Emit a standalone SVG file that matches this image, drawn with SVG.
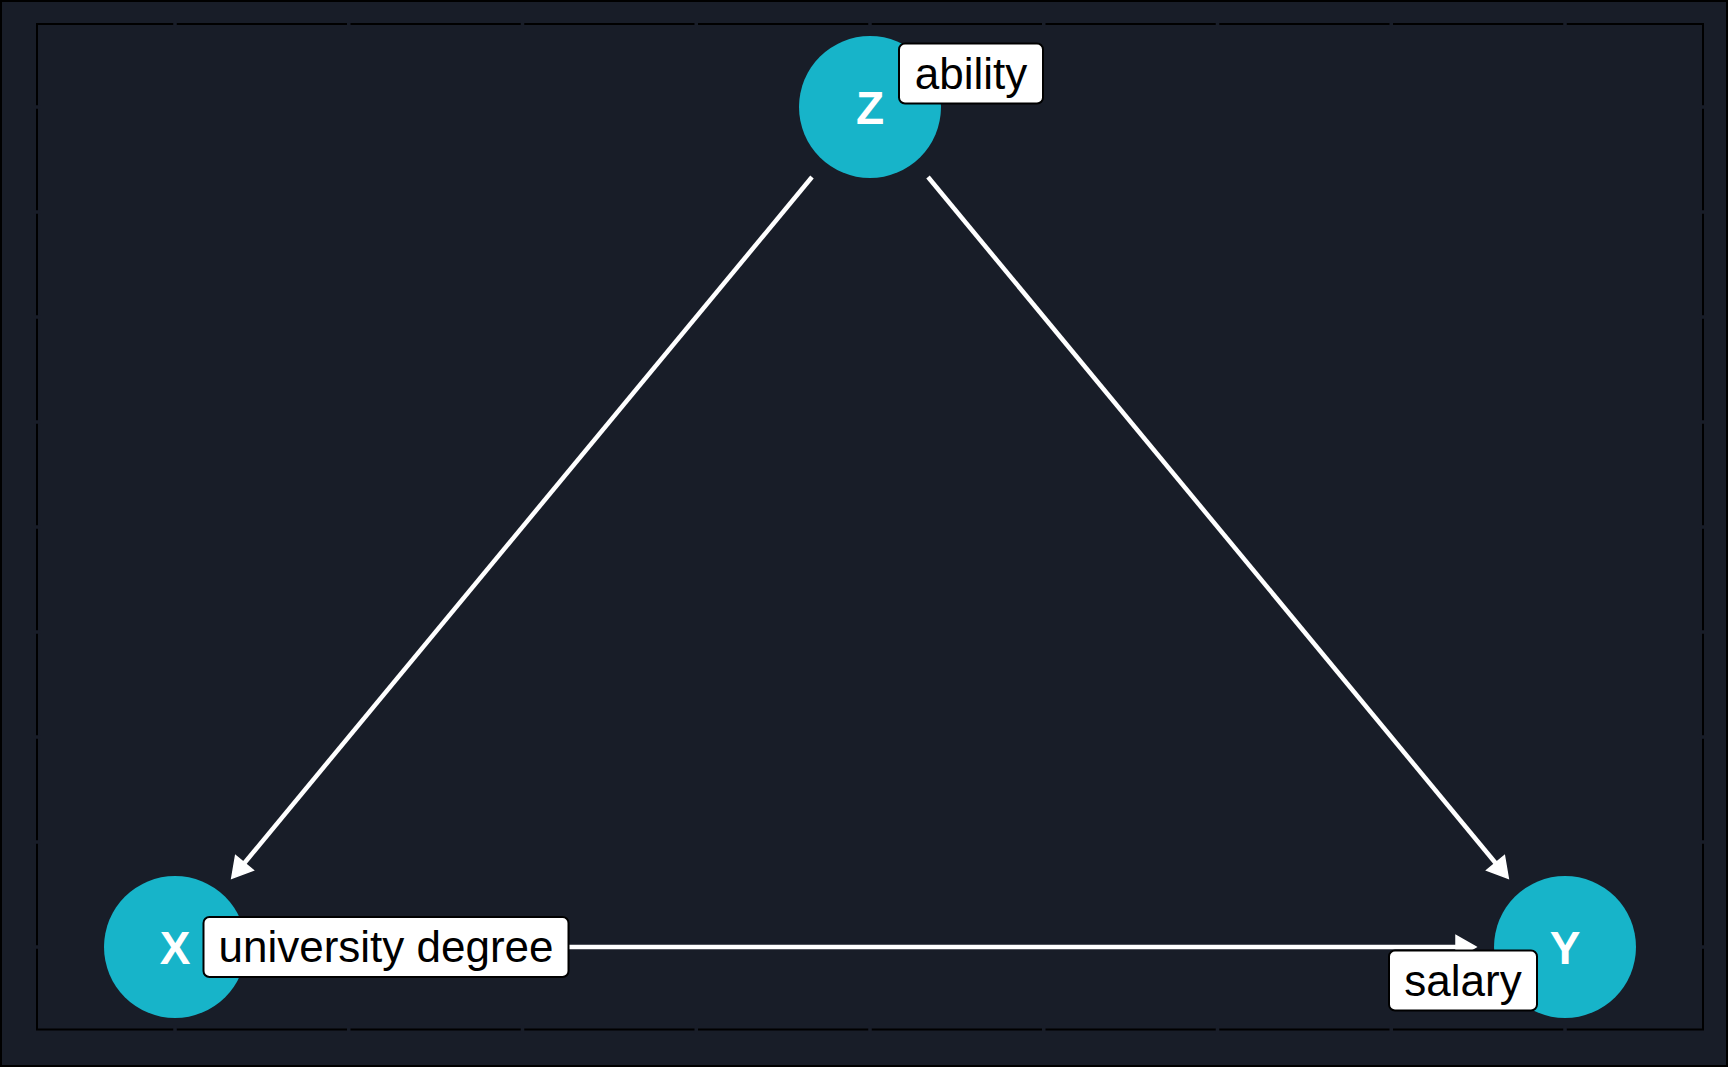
<svg xmlns="http://www.w3.org/2000/svg" width="1728" height="1067" viewBox="0 0 1728 1067">
  <style>
    .bg { fill: #181d28; }
    .frame { fill: none; stroke: #000000; stroke-width: 2; }
    .tick { fill: #181d28; }
    .edge { fill: none; stroke: #ffffff; stroke-width: 4.5; stroke-linecap: butt; }
    .node { fill: #17b4c9; }
    .letter { fill: #ffffff; font-family: "Liberation Sans", Arial, sans-serif; font-weight: bold; font-size: 46px; text-anchor: middle; }
    .lbox { fill: #ffffff; stroke: #000000; stroke-width: 2; }
    .ltext { fill: #000000; font-family: "Liberation Sans", Arial, sans-serif; font-size: 44px; text-anchor: middle; }
  </style>
  <defs>
    <marker id="arrow" markerUnits="userSpaceOnUse" markerWidth="40" markerHeight="40" refX="0" refY="0" orient="auto" overflow="visible" viewBox="-20 -20 40 40">
      <path d="M8,0 L-12,-11.5 L-12,11.5 Z" fill="#ffffff" stroke="#ffffff" stroke-width="1.5" stroke-linejoin="miter"/>
    </marker>
  </defs>

  <g id="background">
    <rect class="bg" x="0" y="0" width="1728" height="1067"/>
    <rect class="frame" x="1" y="1" width="1726" height="1065"/>
    <rect class="frame" x="37" y="24" width="1666" height="1005.5"/>
    <g id="ticks">
      <rect class="tick" x="173.25" y="20" width="3.5" height="8"/>
      <rect class="tick" x="347" y="20" width="3.5" height="8"/>
      <rect class="tick" x="520.75" y="20" width="3.5" height="8"/>
      <rect class="tick" x="694.5" y="20" width="3.5" height="8"/>
      <rect class="tick" x="868.25" y="20" width="3.5" height="8"/>
      <rect class="tick" x="1042" y="20" width="3.5" height="8"/>
      <rect class="tick" x="1215.75" y="20" width="3.5" height="8"/>
      <rect class="tick" x="1389.5" y="20" width="3.5" height="8"/>
      <rect class="tick" x="1563.25" y="20" width="3.5" height="8"/>
      <rect class="tick" x="173.25" y="1025.5" width="3.5" height="8"/>
      <rect class="tick" x="347" y="1025.5" width="3.5" height="8"/>
      <rect class="tick" x="520.75" y="1025.5" width="3.5" height="8"/>
      <rect class="tick" x="694.5" y="1025.5" width="3.5" height="8"/>
      <rect class="tick" x="868.25" y="1025.5" width="3.5" height="8"/>
      <rect class="tick" x="1042" y="1025.5" width="3.5" height="8"/>
      <rect class="tick" x="1215.75" y="1025.5" width="3.5" height="8"/>
      <rect class="tick" x="1389.5" y="1025.5" width="3.5" height="8"/>
      <rect class="tick" x="1563.25" y="1025.5" width="3.5" height="8"/>
      <rect class="tick" x="33" y="105.25" width="8" height="3.5"/>
      <rect class="tick" x="33" y="210.25" width="8" height="3.5"/>
      <rect class="tick" x="33" y="315.25" width="8" height="3.5"/>
      <rect class="tick" x="33" y="420.25" width="8" height="3.5"/>
      <rect class="tick" x="33" y="525.25" width="8" height="3.5"/>
      <rect class="tick" x="33" y="630.25" width="8" height="3.5"/>
      <rect class="tick" x="33" y="735.25" width="8" height="3.5"/>
      <rect class="tick" x="33" y="840.25" width="8" height="3.5"/>
      <rect class="tick" x="33" y="945.25" width="8" height="3.5"/>
      <rect class="tick" x="1699" y="105.25" width="8" height="3.5"/>
      <rect class="tick" x="1699" y="210.25" width="8" height="3.5"/>
      <rect class="tick" x="1699" y="315.25" width="8" height="3.5"/>
      <rect class="tick" x="1699" y="420.25" width="8" height="3.5"/>
      <rect class="tick" x="1699" y="525.25" width="8" height="3.5"/>
      <rect class="tick" x="1699" y="630.25" width="8" height="3.5"/>
      <rect class="tick" x="1699" y="735.25" width="8" height="3.5"/>
      <rect class="tick" x="1699" y="840.25" width="8" height="3.5"/>
      <rect class="tick" x="1699" y="945.25" width="8" height="3.5"/>
    </g>
  </g>

  <g id="edges">
    <line class="edge" x1="812" y1="177" x2="236.8" y2="872.2" marker-end="url(#arrow)"/>
    <line class="edge" x1="928" y1="177" x2="1503.2" y2="872.2" marker-end="url(#arrow)"/>
    <line class="edge" x1="266" y1="947" x2="1468" y2="947" marker-end="url(#arrow)"/>
  </g>

  <g id="node-Z">
    <circle class="node" cx="870" cy="107" r="71"/>
    <text class="letter" x="870" y="124">Z</text>
    <rect class="lbox" x="899" y="43.5" width="144" height="60" rx="6" ry="6"/>
    <text class="ltext" x="971" y="88.5">ability</text>
  </g>

  <g id="node-X">
    <circle class="node" cx="175" cy="947" r="71"/>
    <text class="letter" x="175" y="963.5">X</text>
    <rect class="lbox" x="203.5" y="917" width="365" height="60" rx="6" ry="6"/>
    <text class="ltext" x="386" y="962.3">university degree</text>
  </g>

  <g id="node-Y">
    <circle class="node" cx="1565" cy="947" r="71"/>
    <text class="letter" x="1565" y="963.5">Y</text>
    <rect class="lbox" x="1389" y="950.5" width="148" height="60" rx="6" ry="6"/>
    <text class="ltext" x="1463" y="995.5">salary</text>
  </g>
</svg>
